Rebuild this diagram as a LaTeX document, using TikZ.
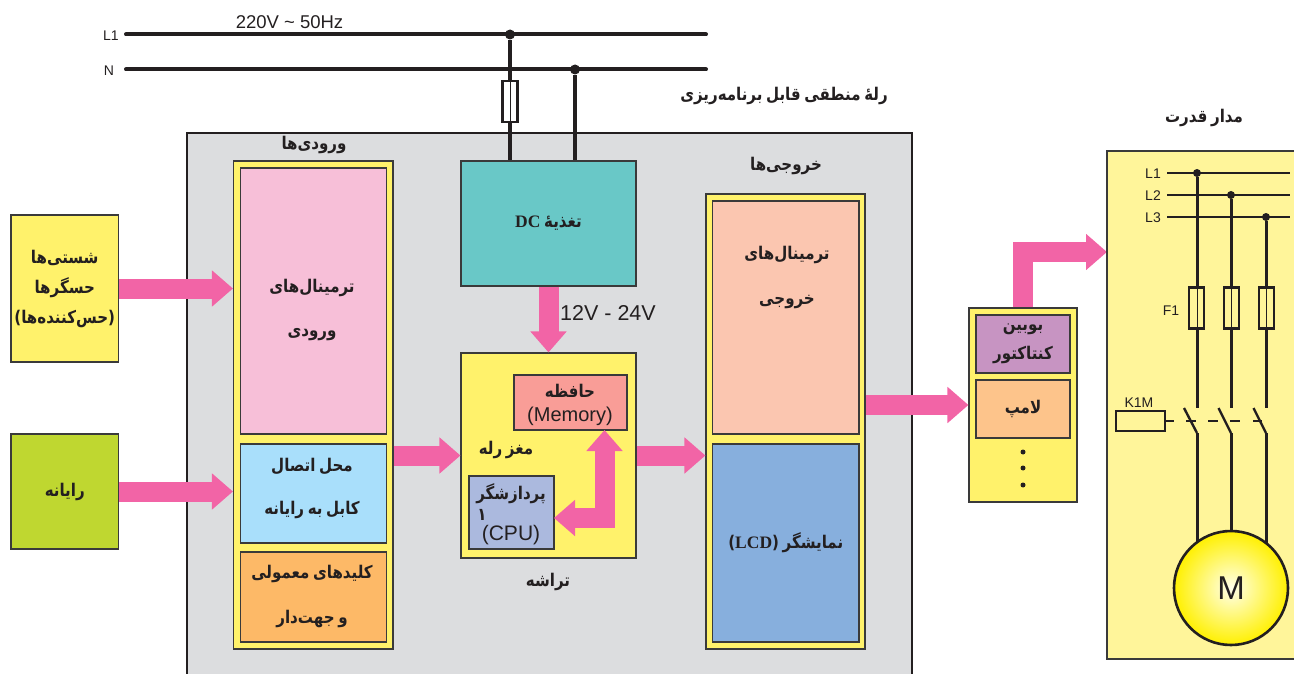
\documentclass[tikz,border=0pt]{standalone}
\usepackage{fontspec}
\usepackage{xcolor}
\usetikzlibrary{arrows.meta}
\setmainfont{Liberation Sans}
\newfontfamily\arabicfont[Script=Arabic,FakeStretch=0.86,WordSpace=0.7]{DejaVu Sans}
\newfontfamily\latinserif{Liberation Serif}
\TeXXeTstate=1
\definecolor{Ink}{RGB}{35, 31, 32}
\definecolor{Frame}{RGB}{58, 58, 58}
\definecolor{Shell}{RGB}{220, 221, 223}
\definecolor{Pinky}{RGB}{242, 100, 166}
\definecolor{Bar}{RGB}{255, 242, 107}
\definecolor{InTerm}{RGB}{247, 191, 216}
\definecolor{Cable}{RGB}{169, 223, 251}
\definecolor{Keys}{RGB}{253, 185, 103}
\definecolor{Computer}{RGB}{191, 215, 48}
\definecolor{Teal}{RGB}{105, 200, 199}
\definecolor{Memory}{RGB}{249, 157, 151}
\definecolor{Cpu}{RGB}{171, 185, 222}
\definecolor{OutTerm}{RGB}{251, 198, 176}
\definecolor{Lcd}{RGB}{135, 175, 221}
\definecolor{Coil}{RGB}{199, 148, 194}
\definecolor{Lamp}{RGB}{253, 196, 139}
\definecolor{Panel}{RGB}{255, 245, 154}
\definecolor{MotorRim}{RGB}{255, 240, 0}
\definecolor{MotorCore}{RGB}{255, 255, 235}
\newcommand{\fa}[1]{{\arabicfont\bfseries\beginR #1\endR}}
\newcommand{\la}[1]{\beginL{\latinserif\bfseries #1}\endL}
\tikzset{
  blockbox/.style={draw=Frame, line width=1.1pt, inner sep=0pt, align=center, text=Ink},
  fatext/.style={align=center, inner sep=0pt, text=Ink, font=\fontsize{17.5}{#1}\selectfont},
  fatext/.default=30,
  sanstext/.style={inner sep=0pt, text=Ink, font=\fontsize{#1}{#1}\selectfont},
  blockarrow/.style={draw=Pinky, line width=20pt, >={Triangle[length=21pt,width=35pt]}},
  mainsline/.style={draw=Ink, line width=4pt, line cap=round},
  wire/.style={draw=Ink, line width=3pt},
  thinwire/.style={draw=Ink, line width=1pt},
  junction/.style={circle, fill=Ink, inner sep=0pt, minimum size=#1},
  fusebox/.style={draw=Ink, line width=2.2pt, inner sep=0pt, minimum width=15pt, minimum height=41pt},
}
\begin{document}
\begin{tikzpicture}[x=1pt, y=-1pt]
        \useasboundingbox (0, 0) rectangle (1294, 674);
        \clip (0, 0) rectangle (1294, 674);

        % Relay shell
        \node[blockbox, draw=Ink, fill=Shell, line width=2.5pt, minimum width=725pt, minimum height=557pt] (shell) at (549.5, 411.5) {};
        \node[fatext] (shelltitle) at (784, 96) {\fa{رلهٔ منطقی قابل برنامه^^^^200cریزی}};

        % Inputs
        \node[fatext] (inputtitle) at (314, 145) {\fa{ورودی^^^^200cها}};
        \node[blockbox, fill=Bar, minimum width=159.5pt, minimum height=488pt] (inbar) at (313.25, 405) {};
        \node[blockbox, fill=InTerm, minimum width=146pt, minimum height=266pt] (interm) at (313.5, 301) {};
        \node[fatext=44] (intermtext) at (312, 310) {\fa{ترمینال^^^^200cهای}\\\fa{ورودی}};
        \node[blockbox, fill=Cable, minimum width=146pt, minimum height=99pt] (cable) at (313.5, 493.5) {};
        \node[fatext=43] (cabletext) at (312, 488) {\fa{محل اتصال}\\\fa{کابل به رایانه}};
        \node[blockbox, fill=Keys, minimum width=146pt, minimum height=90pt] (keys) at (313.5, 597) {};
        \node[fatext=45] (keystext) at (312, 596) {\fa{کلیدهای معمولی}\\\fa{و جهت^^^^200cدار}};

        % Sensors and computer
        \node[blockbox, fill=Bar, minimum width=107.5pt, minimum height=147pt, fatext=30] (sensors) at (64.75, 288.5) {\fa{شستی^^^^200cها}\\\fa{حسگرها}\\\fa{(حس^^^^200cکننده^^^^200cها)}};
        \node[blockbox, fill=Computer, minimum width=107.5pt, minimum height=115pt, fatext] (computer) at (64.75, 491.5) {\fa{رایانه}};

        % Supply
        \node[blockbox, fill=Teal, minimum width=175pt, minimum height=125pt, fatext] (dc) at (548.5, 223.5) {\fa{تغذیهٔ \la{DC}}};
        \node[sanstext=21.5, anchor=west] (voltage) at (560, 313) {12V - 24V};

        % Relay brain
        \node[blockbox, fill=Bar, minimum width=175pt, minimum height=205pt] (chip) at (548.5, 455.5) {};
        \node[fatext] (brain) at (506, 450) {\fa{مغز رله}};
        \node[fatext] (chiptitle) at (548, 582) {\fa{تراشه}};
        \node[blockbox, fill=Memory, minimum width=113pt, minimum height=55pt] (memory) at (570.5, 402.5) {};
        \node[fatext] (memorytitle) at (570, 391) {\fa{حافظه}};
        \node[sanstext=20] (memorytext) at (570, 416) {(Memory)};
        \node[blockbox, fill=Cpu, minimum width=85pt, minimum height=73pt] (cpu) at (511.5, 512.5) {};
        \node[fatext] (cputitle) at (511, 494) {\fa{پردازشگر}};
        \node[fatext] (cpunote) at (482, 515) {\fa{۱}};
        \node[sanstext=21] (cputext) at (511, 535) {(CPU)};

        % Outputs
        \node[fatext] (outputtitle) at (786, 166) {\fa{خروجی^^^^200cها}};
        \node[blockbox, fill=Bar, minimum width=159pt, minimum height=455pt] (outbar) at (785.5, 421.5) {};
        \node[blockbox, fill=OutTerm, minimum width=146.5pt, minimum height=233pt] (outterm) at (785.75, 317.5) {};
        \node[fatext=45] (outtermtext) at (787, 277) {\fa{ترمینال^^^^200cهای}\\\fa{خروجی}};
        \node[blockbox, fill=Lcd, minimum width=146.5pt, minimum height=198pt, fatext] (lcd) at (785.75, 543) {\fa{نمایشگر (\la{LCD})}};

        % Loads
        \node[blockbox, fill=Bar, minimum width=108pt, minimum height=194pt] (loads) at (1023, 405) {};
        \node[blockbox, fill=Coil, minimum width=94pt, minimum height=58pt, fatext=29] (coil) at (1023, 344) {\fa{بوبین}\\\fa{کنتاکتور}};
        \node[blockbox, fill=Lamp, minimum width=94pt, minimum height=58pt, fatext] (lamp) at (1023, 409) {\fa{لامپ}};
        \node[junction=5pt] (dota) at (1023, 452) {};
        \node[junction=5pt] (dotb) at (1023, 468) {};
        \node[junction=5pt] (dotc) at (1023, 485) {};

        % Arrows
        \coordinate (memport) at (604.5, 430);
        \coordinate (cpuport) at (554, 518);
        \coordinate (powerin) at (1107, 252);
        \draw[blockarrow, ->] (sensors.east) -- (sensors.east -| inbar.west);
        \draw[blockarrow, ->] (computer.east) -- (computer.east -| inbar.west);
        \draw[blockarrow, ->] (inbar.east |- chip.west) -- (chip.west);
        \draw[blockarrow, ->] (chip.east) -- (chip.east -| outbar.west);
        \draw[blockarrow, ->] (outbar.east |- loads.west) -- (loads.west);
        \draw[blockarrow, ->] (dc.south) -- (chip.north);
        \draw[blockarrow, <->] (memport) |- (cpuport);
        \draw[blockarrow, ->] (loads.north) |- (powerin);

        % Mains
        \coordinate (Lstart) at (126, 34.5);
        \coordinate (Lend) at (706, 34.5);
        \coordinate (Nstart) at (126, 69.5);
        \coordinate (Nend) at (706, 69.5);
        \node[sanstext=14] (Llabel) at (111, 35.5) {L1};
        \node[sanstext=14] (Nlabel) at (109, 71) {N};
        \node[sanstext=18.5] (ratedtext) at (289.5, 22) {220V \char"7E{} 50Hz};
        \draw[mainsline] (Lstart) -- (Lend);
        \draw[mainsline] (Nstart) -- (Nend);
        \node[junction=10pt] (Ldot) at (510, 34.5) {};
        \node[junction=10pt] (Ndot) at (575, 69.5) {};
        \node[fusebox] (mainfuse) at (510, 101.5) {};
        \draw[wire, line width=4pt] (Ldot) -- (mainfuse.north);
        \draw[thinwire] (mainfuse.north) -- (mainfuse.south);
        \draw[wire, line width=4pt] (mainfuse.south) -- (mainfuse.south |- dc.north);
        \draw[wire, line width=4pt] (Ndot) -- (Ndot |- dc.north);

        % Power circuit
        \node[fatext] (powertitle) at (1204, 118) {\fa{مدار قدرت}};
        \node[blockbox, fill=Panel, minimum width=213pt, minimum height=508pt] (power) at (1213.5, 405) {};
        \coordinate (Aend) at (1290, 173);
        \coordinate (Bend) at (1290, 195);
        \coordinate (Cend) at (1290, 217);
        \node[sanstext=14, anchor=east] (Alabel) at (1161, 173.5) {L1};
        \node[sanstext=14, anchor=east] (Blabel) at (1161, 195.5) {L2};
        \node[sanstext=14, anchor=east] (Clabel) at (1161, 217.5) {L3};
        \coordinate (Astart) at (1167, 173);
        \coordinate (Bstart) at (1167, 195);
        \coordinate (Cstart) at (1167, 217);
        \draw[wire, line width=2.4pt] (Astart) -- (Aend);
        \draw[wire, line width=2.4pt] (Bstart) -- (Bend);
        \draw[wire, line width=2.4pt] (Cstart) -- (Cend);
        \node[junction=8pt] (Adot) at (1197, 173) {};
        \node[junction=8pt] (Bdot) at (1231, 195) {};
        \node[junction=8pt] (Cdot) at (1266, 217) {};
        \node[fusebox] (Afuse) at (1196.5, 308) {};
        \node[fusebox] (Bfuse) at (1231.5, 308) {};
        \node[fusebox] (Cfuse) at (1266.5, 308) {};
        \node[sanstext=14] (fuselabel) at (1171, 311) {F1};
        \draw[wire] (Adot) -- (Afuse.north -| Adot);
        \draw[wire] (Bdot) -- (Bfuse.north -| Bdot);
        \draw[wire] (Cdot) -- (Cfuse.north -| Cdot);
        \draw[thinwire] (Adot |- Afuse.north) -- (Adot |- Afuse.south);
        \draw[thinwire] (Bdot |- Bfuse.north) -- (Bdot |- Bfuse.south);
        \draw[thinwire] (Cdot |- Cfuse.north) -- (Cdot |- Cfuse.south);
        \coordinate (Aopen) at (1197, 408);
        \coordinate (Bopen) at (1231, 408);
        \coordinate (Copen) at (1266, 408);
        \draw[wire] (Afuse.south -| Adot) -- (Aopen);
        \draw[wire] (Bfuse.south -| Bdot) -- (Bopen);
        \draw[wire] (Cfuse.south -| Cdot) -- (Copen);
        % Contacts
        \coordinate (Ablade) at (1184, 408);
        \coordinate (Bblade) at (1218.5, 408);
        \coordinate (Cblade) at (1253.5, 408);
        \coordinate (Aclosed) at (1197, 433);
        \coordinate (Bclosed) at (1231, 433);
        \coordinate (Cclosed) at (1266, 433);
        \draw[wire, line width=2.4pt] (Ablade) -- (Aclosed);
        \draw[wire, line width=2.4pt] (Bblade) -- (Bclosed);
        \draw[wire, line width=2.4pt] (Cblade) -- (Cclosed);
        \node[blockbox, draw=Ink, line width=2.4pt, minimum width=49pt, minimum height=20pt] (coilmark) at (1140.5, 421) {};
        \node[sanstext=14] (coilname) at (1139, 403) {K1M};
        \coordinate (stubend) at (1174, 421);
        \draw[wire, line width=2pt] (coilmark.east) -- (stubend);
        \coordinate (dashaa) at (1186, 421);
        \coordinate (dashab) at (1196, 421);
        \coordinate (dashba) at (1208, 421);
        \coordinate (dashbb) at (1218, 421);
        \coordinate (dashca) at (1230, 421);
        \coordinate (dashcb) at (1240, 421);
        \coordinate (dashda) at (1253, 421);
        \coordinate (dashdb) at (1262, 421);
        \draw[wire, line width=2pt] (dashaa) -- (dashab);
        \draw[wire, line width=2pt] (dashba) -- (dashbb);
        \draw[wire, line width=2pt] (dashca) -- (dashcb);
        \draw[wire, line width=2pt] (dashda) -- (dashdb);
        % Motor
        \coordinate (motorpos) at (1231, 588);
        \draw[wire] (Aclosed) -- (Aclosed |- motorpos);
        \draw[wire] (Bclosed) -- (Bclosed |- motorpos);
        \draw[wire] (Cclosed) -- (Cclosed |- motorpos);
        \node[circle, draw=Ink, line width=2.6pt, inner sep=0pt, minimum size=114pt, inner color=MotorCore, outer color=MotorRim, text=Ink, font=\fontsize{33}{33}\selectfont] (motor) at (motorpos) {M};
\end{tikzpicture}
\end{document}
